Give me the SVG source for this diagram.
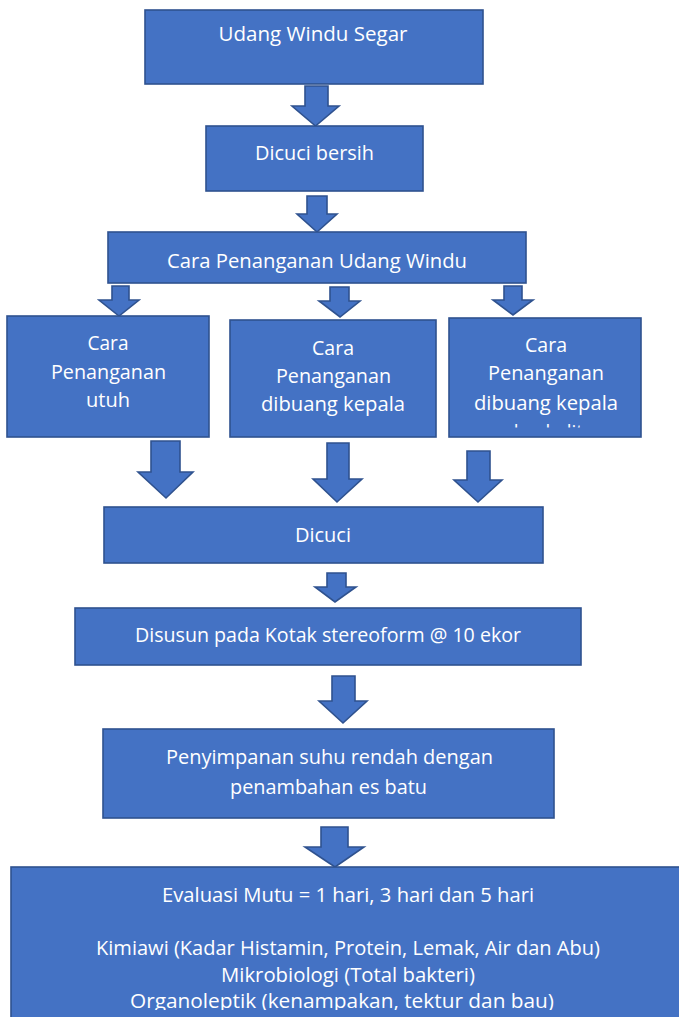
<svg xmlns="http://www.w3.org/2000/svg" width="679" height="1017" viewBox="0 0 679 1017">
<style>
.box{fill:#4472C4;stroke:#2F528F;stroke-width:1.6}
.arr{fill:#4472C4;stroke:#2F528F;stroke-width:1.6;stroke-linejoin:miter}
text{font-family:"Open Sans","Noto Sans",sans-serif;font-size:20px;fill:#FFFFFF;text-anchor:middle}
</style>
<defs>
<clipPath id="clipMid"><rect x="230" y="320" width="206" height="107"/></clipPath>
<clipPath id="clipRight"><rect x="449" y="318" width="192" height="109.5"/></clipPath>
<clipPath id="clipBottom"><rect x="11" y="867" width="680" height="143"/></clipPath>
</defs>
<rect width="679" height="1017" fill="#FFFFFF"/>
<g id="connectors">
<polygon class="arr" points="305,86 328,86 328,106 339,106 315.5,126 292,106 305,106"/>
<polygon class="arr" points="307,196 327,196 327,214 337,214 317,232 297,214 307,214"/>
<polygon class="arr" points="112,286 129,286 129,300 139,300 119,316 99,300 112,300"/>
<polygon class="arr" points="330,287 349,287 349,301 360,301 340,317 319,301 330,301"/>
<polygon class="arr" points="504,286 522,286 522,300 533,300 513,315 493,300 504,300"/>
<polygon class="arr" points="151,441 180,441 180,472 193,472 166,498 138,472 151,472"/>
<polygon class="arr" points="327,443 349,443 349,479 362,479 337,502 313,479 327,479"/>
<polygon class="arr" points="467,451 490,451 490,480 502,480 478,502 454,480 467,480"/>
<polygon class="arr" points="327,573 346,573 346,587 356,587 335,602 315,587 327,587"/>
<polygon class="arr" points="332,676 355,676 355,701 367,701 343,723 319,701 332,701"/>
<polygon class="arr" points="321,827 348,827 348,847 364,847 335,867 305,847 321,847"/>
</g>
<g id="n1">
<rect class="box" x="145" y="10" width="338" height="74"/>
<text x="313" y="41" textLength="189" lengthAdjust="spacingAndGlyphs">Udang Windu Segar</text>
</g>
<g id="n2">
<rect class="box" x="206" y="126" width="217" height="65"/>
<text x="314.5" y="160" textLength="119" lengthAdjust="spacingAndGlyphs">Dicuci bersih</text>
</g>
<g id="n3">
<rect class="box" x="108" y="232" width="418" height="51"/>
<text x="317" y="268" textLength="300" lengthAdjust="spacingAndGlyphs">Cara Penanganan Udang Windu</text>
</g>
<g id="n4">
<rect class="box" x="7" y="316" width="202" height="121"/>
<text x="108" y="350" textLength="41" lengthAdjust="spacingAndGlyphs">Cara</text>
<text x="108.5" y="379" textLength="115" lengthAdjust="spacingAndGlyphs">Penanganan</text>
<text x="108" y="407" textLength="44" lengthAdjust="spacingAndGlyphs">utuh</text>
</g>
<g id="n5">
<rect class="box" x="230" y="320" width="206" height="117"/>
<g clip-path="url(#clipMid)">
<text x="333" y="355" textLength="42" lengthAdjust="spacingAndGlyphs">Cara</text>
<text x="333.5" y="383" textLength="115" lengthAdjust="spacingAndGlyphs">Penanganan</text>
<text x="333" y="411" textLength="144" lengthAdjust="spacingAndGlyphs">dibuang kepala</text>
</g>
</g>
<g id="n6">
<rect class="box" x="449" y="318" width="192" height="119"/>
<g clip-path="url(#clipRight)">
<text x="546" y="352" textLength="42" lengthAdjust="spacingAndGlyphs">Cara</text>
<text x="546" y="380" textLength="116" lengthAdjust="spacingAndGlyphs">Penanganan</text>
<text x="546" y="410" textLength="144" lengthAdjust="spacingAndGlyphs">dibuang kepala</text>
<text x="545" y="438.5" textLength="76" lengthAdjust="spacingAndGlyphs">dan kulit</text>
</g>
</g>
<g id="n7">
<rect class="box" x="104" y="507" width="439" height="56"/>
<text x="323" y="542" textLength="56" lengthAdjust="spacingAndGlyphs">Dicuci</text>
</g>
<g id="n8">
<rect class="box" x="75" y="608" width="506" height="57"/>
<text x="328" y="642" textLength="386" lengthAdjust="spacingAndGlyphs">Disusun pada Kotak stereoform @ 10 ekor</text>
</g>
<g id="n9">
<rect class="box" x="103" y="729" width="451" height="89"/>
<text x="329.5" y="764" textLength="327" lengthAdjust="spacingAndGlyphs">Penyimpanan suhu rendah dengan</text>
<text x="328.5" y="794" textLength="197" lengthAdjust="spacingAndGlyphs">penambahan es batu</text>
</g>
<g id="n10">
<rect class="box" x="11" y="867" width="680" height="160"/>
<g clip-path="url(#clipBottom)">
<text x="348" y="902" textLength="372" lengthAdjust="spacingAndGlyphs">Evaluasi Mutu = 1 hari, 3 hari dan 5 hari</text>
<text x="348" y="955" textLength="504" lengthAdjust="spacingAndGlyphs">Kimiawi (Kadar Histamin, Protein, Lemak, Air dan Abu)</text>
<text x="348" y="982" textLength="254" lengthAdjust="spacingAndGlyphs">Mikrobiologi (Total bakteri)</text>
<text x="342" y="1008" textLength="424" lengthAdjust="spacingAndGlyphs">Organoleptik (kenampakan, tektur dan bau)</text>
</g>
</g>
</svg>
